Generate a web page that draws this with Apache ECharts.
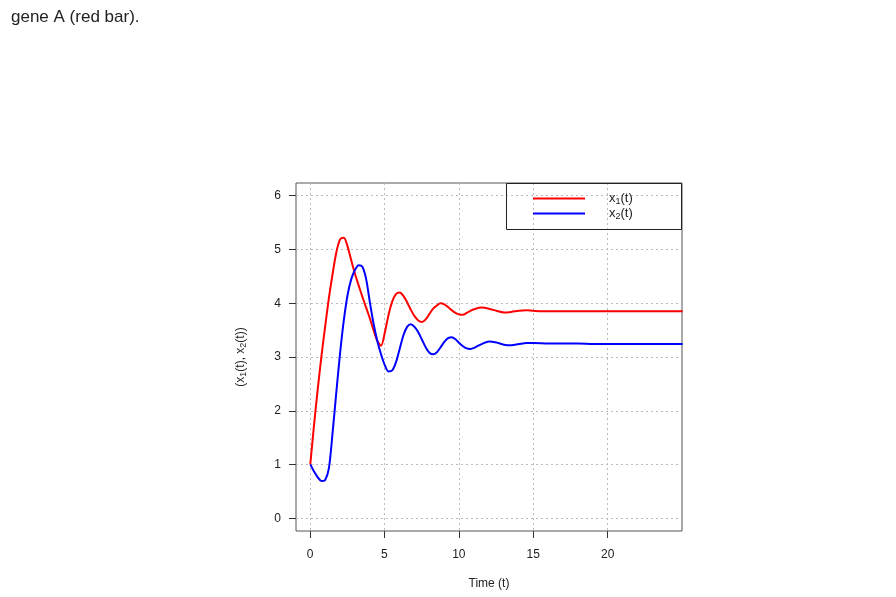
<!DOCTYPE html>
<html>
<head>
<meta charset="utf-8">
<script src="https://cdn.jsdelivr.net/npm/echarts@6/dist/echarts.min.js"></script>
<style>
  html, body { margin: 0; padding: 0; background: #fff; }
  #main { width: 896px; height: 597px; }
</style>
</head>
<body>
<div id="main"></div>
<script>
// time points (t)
var times = [0, 0.25, 0.5, 0.75, 1, 1.25, 1.5, 1.75, 2, 2.25, 2.5, 2.75, 3, 3.25, 3.5, 3.75,
  4, 4.25, 4.5, 4.75, 5, 5.25, 5.5, 5.75, 6, 6.25, 6.5, 6.75, 7, 7.25, 7.5, 7.75,
  8, 8.25, 8.5, 8.75, 9, 9.25, 9.5, 9.75, 10, 10.25, 10.5, 10.75, 11,
  11.5, 12, 12.5, 13, 13.5, 14, 14.5, 15,
  16, 17, 18, 19, 20, 21, 22, 23, 24, 25];

// x1(t) - red
var x1 = [1.0, 1.73, 2.4, 3.02, 3.57, 4.1, 4.55, 4.95, 5.19, 5.22, 5.06, 4.8, 4.55, 4.33, 4.12, 3.92,
  3.72, 3.5, 3.3, 3.21, 3.45, 3.78, 4.03, 4.17, 4.2, 4.14, 4.02, 3.88, 3.76, 3.68, 3.65, 3.7,
  3.8, 3.9, 3.96, 4.0, 3.98, 3.93, 3.87, 3.82, 3.79, 3.785, 3.82, 3.86, 3.89,
  3.92, 3.9, 3.86, 3.83, 3.84, 3.86, 3.87, 3.86,
  3.85, 3.85, 3.85, 3.85, 3.85, 3.85, 3.85, 3.85, 3.85, 3.85];

// x2(t) - blue
var x2 = [1.0, 0.87, 0.76, 0.69, 0.71, 0.93, 1.6, 2.35, 3.07, 3.68, 4.15, 4.45, 4.62, 4.71, 4.68, 4.45,
  4.02, 3.62, 3.3, 3.05, 2.85, 2.73, 2.75, 2.9, 3.15, 3.4, 3.56, 3.61, 3.56, 3.46, 3.32, 3.18,
  3.08, 3.05, 3.09, 3.18, 3.28, 3.35, 3.37, 3.33, 3.26, 3.2, 3.16, 3.15, 3.17,
  3.24, 3.29, 3.27, 3.23, 3.22, 3.24, 3.26, 3.26,
  3.25, 3.25, 3.25, 3.24, 3.24, 3.24, 3.24, 3.24, 3.24, 3.24];

function pairs(vals) {
  return times.map(function (t, i) { return [t, vals[i]]; });
}

var myChart = echarts.init(document.getElementById('main'));

var fontFam = 'Liberation Sans, Arial, sans-serif';

var option = {
  animation: false,
  title: {
    text: 'gene A (red bar).',
    left: 6,
    top: 4,
    textStyle: { fontSize: 17, fontWeight: 'normal', color: '#222', fontFamily: fontFam }
  },
  legend: {
    orient: 'vertical',
    left: 533,
    top: 191,
    padding: 0,
    icon: 'rect',
    itemWidth: 52,
    itemHeight: 2,
    itemGap: 0,
    data: ['x1', 'x2'],
    formatter: function (name) {
      return name === 'x1' ? '{g|}{a|x}{s|1}{a|(t)}' : '{g|}{a|x}{s|2}{a|(t)}';
    },
    textStyle: {
      fontFamily: fontFam,
      color: '#222',
      rich: {
        g: { width: 19 },
        a: { fontSize: 13, fontFamily: fontFam, color: '#222', lineHeight: 15 },
        s: { fontSize: 9, fontFamily: fontFam, color: '#222', lineHeight: 15, padding: [6, 0, 0, 0] }
      }
    }
  },
  graphic: [{
    type: 'rect',
    shape: { x: 506.5, y: 183.5, width: 175, height: 46 },
    style: { fill: null, stroke: '#222', lineWidth: 1 },
    z: 10
  }],
  grid: [
    // plot box holding the data
    { left: 296, top: 183, width: 386, height: 348, show: true, borderColor: '#555', borderWidth: 1, backgroundColor: 'transparent' },
    // x grid lines / ticks
    { left: 310, top: 183, width: 297.7, height: 348 },
    // y grid lines / ticks
    { left: 296, top: 195.7, width: 386, height: 322.6 }
  ],
  xAxis: [
    {
      gridIndex: 0, type: 'value', min: -0.96, max: 24.96,
      axisLine: { show: false }, axisTick: { show: false }, axisLabel: { show: false }, splitLine: { show: false },
      name: 'Time (t)', nameLocation: 'middle', nameGap: 47,
      nameTextStyle: { fontSize: 12, color: '#222', fontFamily: fontFam }
    },
    {
      gridIndex: 1, type: 'value', min: 0, max: 20, interval: 5,
      axisLine: { show: false },
      axisTick: { show: true, inside: false, length: 7, lineStyle: { color: '#333' } },
      axisLabel: { margin: 18, fontSize: 12, color: '#222', fontFamily: fontFam },
      splitLine: { show: true, lineStyle: { color: '#bbb', type: [2, 3], width: 1 } }
    },
    {
      gridIndex: 2, type: 'value', min: 0, max: 1,
      axisLine: { show: false }, axisTick: { show: false }, axisLabel: { show: false }, splitLine: { show: false }
    }
  ],
  yAxis: [
    {
      gridIndex: 0, type: 'value', min: -0.24, max: 6.24,
      axisLine: { show: false }, axisTick: { show: false }, axisLabel: { show: false }, splitLine: { show: false },
      name: '{a|(x}{s|1}{a|(t), x}{s|2}{a|(t))}', nameLocation: 'middle', nameGap: 48,
      nameTextStyle: {
        fontFamily: fontFam, color: '#222',
        rich: {
          a: { fontSize: 12, fontFamily: fontFam, color: '#222', lineHeight: 14 },
          s: { fontSize: 9, fontFamily: fontFam, color: '#222', lineHeight: 14, padding: [5, 0, 0, 0] }
        }
      }
    },
    {
      gridIndex: 1, type: 'value', min: 0, max: 1,
      axisLine: { show: false }, axisTick: { show: false }, axisLabel: { show: false }, splitLine: { show: false }
    },
    {
      gridIndex: 2, type: 'value', min: 0, max: 6, interval: 1,
      axisLine: { show: false },
      axisTick: { show: true, inside: false, length: 7, lineStyle: { color: '#333' } },
      axisLabel: { margin: 15, fontSize: 12, color: '#222', fontFamily: fontFam },
      splitLine: { show: true, lineStyle: { color: '#bbb', type: [2, 3], width: 1 } }
    }
  ],
  series: [
    {
      name: 'x1', type: 'line', xAxisIndex: 0, yAxisIndex: 0,
      data: pairs(x1), symbol: 'none', smooth: 0.3,
      lineStyle: { color: '#ff0000', width: 2 }, itemStyle: { color: '#ff0000' }, z: 5
    },
    {
      name: 'x2', type: 'line', xAxisIndex: 0, yAxisIndex: 0,
      data: pairs(x2), symbol: 'none', smooth: 0.3,
      lineStyle: { color: '#0000ff', width: 2 }, itemStyle: { color: '#0000ff' }, z: 5
    }
  ]
};

myChart.setOption(option);
</script>
</body>
</html>
